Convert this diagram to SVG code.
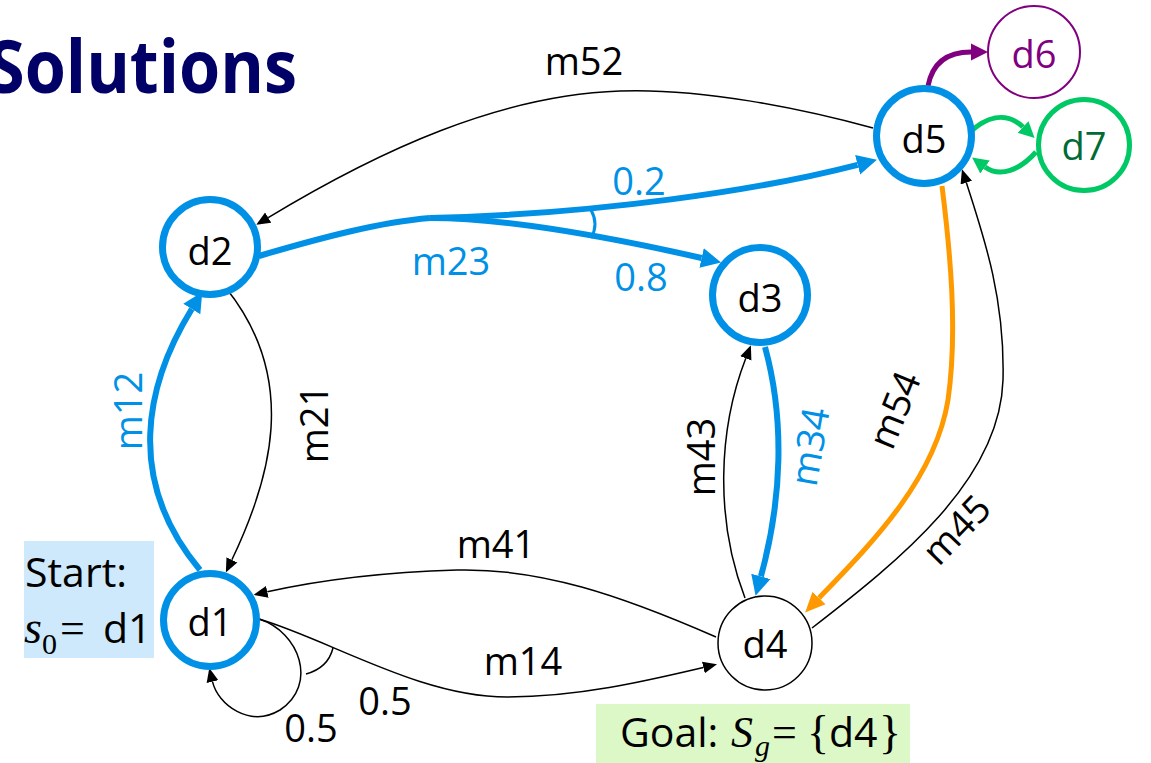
<svg xmlns="http://www.w3.org/2000/svg" width="1151" height="763" viewBox="0 0 1151 763">
  <style>
    .lbl { font-family: "Open Sans", "Liberation Sans", sans-serif; font-size: 38px; text-anchor: middle; }
    .blk { fill: #000; }
    .blu { fill: #0091E6; }
    .math { font-family: "Liberation Serif", serif; }
    .thin { fill: none; stroke: #000; stroke-width: 1.5; }
    .thick { fill: none; stroke: #0091E6; stroke-width: 6; }
    .node-blue { fill: #fff; stroke: #0091E6; stroke-width: 7; }
  </style>
  <defs>
    <marker id="ah-black" markerUnits="userSpaceOnUse" orient="auto" markerWidth="24" markerHeight="24" viewBox="0 -12 24 24" refX="0" refY="0">
      <path d="M0,-6 L14,0 L0,6 z" fill="#000"/>
    </marker>
    <marker id="ah-blue" markerUnits="userSpaceOnUse" orient="auto" markerWidth="24" markerHeight="24" viewBox="0 -12 24 24" refX="0" refY="0">
      <path d="M0,-10 L20,0 L0,10 z" fill="#0091E6"/>
    </marker>
    <marker id="ah-orange" markerUnits="userSpaceOnUse" orient="auto" markerWidth="24" markerHeight="24" viewBox="0 -12 24 24" refX="0" refY="0">
      <path d="M0,-9 L20,0 L0,9 z" fill="#FF9900"/>
    </marker>
    <marker id="ah-purple" markerUnits="userSpaceOnUse" orient="auto" markerWidth="24" markerHeight="24" viewBox="0 -12 24 24" refX="0" refY="0">
      <path d="M0,-8.5 L17,0 L0,8.5 z" fill="#800080"/>
    </marker>
    <marker id="ah-green" markerUnits="userSpaceOnUse" orient="auto" markerWidth="24" markerHeight="24" viewBox="0 -12 24 24" refX="0" refY="0">
      <path d="M0,-8 L16,0 L0,8 z" fill="#00C864"/>
    </marker>
  </defs>

  <rect width="1151" height="763" fill="#fff"/>

  <!-- title -->
  <text x="-12" y="93" font-family="'Open Sans', 'Liberation Sans', sans-serif" font-weight="bold" font-size="74" fill="#000066" textLength="309" lengthAdjust="spacingAndGlyphs">Solutions</text>

  <!-- start / goal annotations -->
  <g id="start">
    <rect x="24" y="541" width="130" height="117" fill="#CDE9FB"/>
    <text x="25" y="587" font-family="'Open Sans', 'Liberation Sans', sans-serif" font-size="41">Start:</text>
    <text class="math" x="24" y="643" font-size="46" font-style="italic">s</text>
    <text class="math" x="42" y="654" font-size="30">0</text>
    <text class="math" x="60" y="643" font-size="44">=</text>
    <text x="103" y="643" font-family="'Open Sans', 'Liberation Sans', sans-serif" font-size="41">d1</text>
  </g>
  <g id="goal">
    <rect x="596" y="704" width="314" height="59" fill="#DCF8C6"/>
    <text x="620" y="747" font-family="'Open Sans', 'Liberation Sans', sans-serif" font-size="41">Goal:</text>
    <text class="math" x="731" y="747" font-size="44" font-style="italic">S</text>
    <text class="math" x="755" y="756" font-size="30" font-style="italic">g</text>
    <text class="math" x="772" y="747" font-size="44">=</text>
    <text class="math" x="807" y="748" font-size="46">{</text>
    <text x="829" y="747" font-family="'Open Sans', 'Liberation Sans', sans-serif" font-size="41">d4</text>
    <text class="math" x="879" y="748" font-size="46">}</text>
  </g>

  <!-- connectors -->
  <g id="connectors">
    <!-- m12 -->
    <path class="thick" d="M200,570 C125,480 145,385 191.8,309" marker-end="url(#ah-blue)"/>
    <!-- m21 -->
    <path class="thin" d="M226,288 C300,380 270,480 231.9,559.8" marker-end="url(#ah-black)"/>
    <!-- m23 with outcomes 0.2 / 0.8 -->
    <path class="thick" d="M259,256 C320,238 380,222 430,218"/>
    <path class="thick" d="M430,218 C600,214 760,190 857.6,164.8" marker-end="url(#ah-blue)"/>
    <path class="thick" d="M430,218 C500,218 600,235 701.6,258" marker-end="url(#ah-blue)"/>
    <path d="M591,210 Q599,224 591,238" fill="none" stroke="#0091E6" stroke-width="3"/>
    <!-- m34 -->
    <path class="thick" d="M765,347 C785,420 782,500 760.9,576.4" marker-end="url(#ah-blue)"/>
    <!-- m43 -->
    <path class="thin" d="M745,598 C715,520 718,430 745.8,358.3" marker-end="url(#ah-black)"/>
    <!-- m54 -->
    <path d="M942,186 C950,250 958,330 948,400 C935,480 870,545 819,598" fill="none" stroke="#FF9900" stroke-width="5" marker-end="url(#ah-orange)"/>
    <!-- m45 -->
    <path class="thin" d="M812,628 C900,560 1000,480 1003,380 C1005,300 985,240 966.3,182.6" marker-end="url(#ah-black)"/>
    <!-- m52 -->
    <path class="thin" d="M873,128 C800,108 700,88 620,91 C500,95 380,150 268.2,217.6" marker-end="url(#ah-black)"/>
    <!-- m41 -->
    <path class="thin" d="M716,637 C620,595 540,568 457,570 C390,572 320,580 267.3,591.8" marker-end="url(#ah-black)"/>
    <!-- m14 with outcomes 0.5 / 0.5 -->
    <path class="thin" d="M259,619 C330,640 420,697 507,697 C580,697 650,680 703.4,667.5" marker-end="url(#ah-black)"/>
    <path class="thin" d="M259,619 C300,632 318,685 280,710 C250,728 218,705 212.5,681.6" marker-end="url(#ah-black)"/>
    <path class="thin" d="M306,674 Q328,668 333,648"/>
    <!-- d5 to d6 -->
    <path d="M928,86 C932,65 945,52 971,52" fill="none" stroke="#800080" stroke-width="5" marker-end="url(#ah-purple)"/>
    <!-- d5 / d7 -->
    <path d="M969,133 C985,118 1005,110 1023,127" fill="none" stroke="#00C864" stroke-width="5" marker-end="url(#ah-green)"/>
    <path d="M1036,152 C1020,170 1000,178 985,167" fill="none" stroke="#00C864" stroke-width="5" marker-end="url(#ah-green)"/>
  </g>

  <!-- connector labels -->
  <g id="edge-labels">
    <text class="lbl blk" x="584" y="75">m52</text>
    <text class="lbl blu" x="451" y="275">m23</text>
    <text class="lbl blu" x="639" y="195">0.2</text>
    <text class="lbl blu" x="641" y="291">0.8</text>
    <text class="lbl blu" transform="translate(142,411) rotate(-90)">m12</text>
    <text class="lbl blk" transform="translate(328,424) rotate(-90)">m21</text>
    <text class="lbl blk" transform="translate(715,457) rotate(-90)">m43</text>
    <text class="lbl blu" transform="translate(823,449) rotate(-80)">m34</text>
    <text class="lbl blk" transform="translate(907,415) rotate(-68)">m54</text>
    <text class="lbl blk" transform="translate(966,539) rotate(-46)">m45</text>
    <text class="lbl blk" x="496" y="558">m41</text>
    <text class="lbl blk" x="523" y="675">m14</text>
    <text class="lbl blk" x="385" y="715">0.5</text>
    <text class="lbl blk" x="311" y="742">0.5</text>
  </g>

  <!-- nodes -->
  <g id="d1"><circle class="node-blue" cx="210" cy="620" r="46.5"/><text class="lbl blk" x="210" y="636">d1</text></g>
  <g id="d2"><circle class="node-blue" cx="210" cy="247" r="47.5"/><text class="lbl blk" x="210" y="265">d2</text></g>
  <g id="d3"><circle class="node-blue" cx="760" cy="295" r="47.5"/><text class="lbl blk" x="760" y="312">d3</text></g>
  <g id="d4"><circle cx="765" cy="643" r="47" fill="#fff" stroke="#000" stroke-width="1.5"/><text class="lbl blk" x="765" y="658">d4</text></g>
  <g id="d5"><circle class="node-blue" cx="924" cy="136" r="47.5"/><text class="lbl blk" x="924" y="153">d5</text></g>
  <g id="d6"><circle cx="1034" cy="52" r="46" fill="#fff" stroke="#800080" stroke-width="2"/><text class="lbl" x="1034" y="68" fill="#800080" font-size="42">d6</text></g>
  <g id="d7"><circle cx="1084" cy="145" r="45.5" fill="#fff" stroke="#00C864" stroke-width="5"/><text class="lbl" x="1084" y="160" fill="#006B35" font-size="40">d7</text></g>
</svg>
